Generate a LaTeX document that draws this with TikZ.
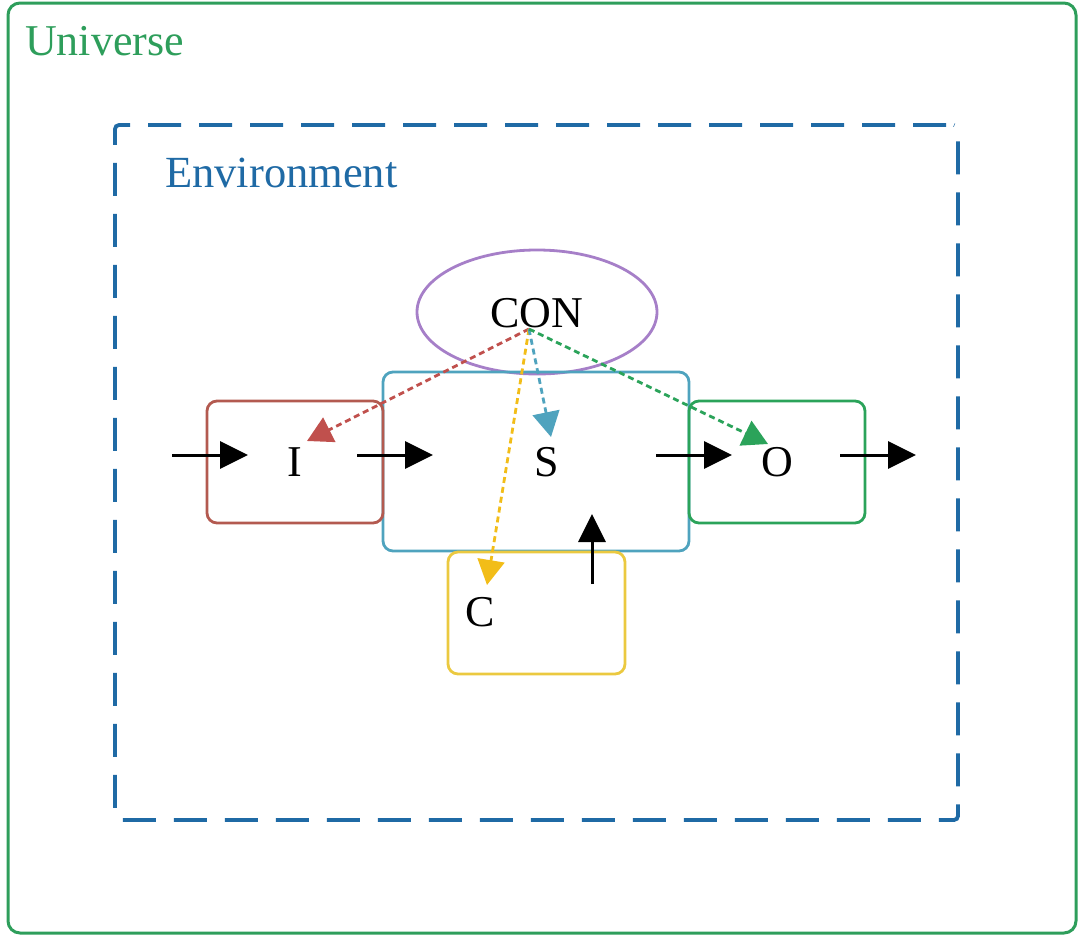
\documentclass[tikz,border=0pt]{standalone}
\usepackage{fontspec}
\setmainfont{Liberation Serif}
\usetikzlibrary{arrows.meta,shapes.geometric}
\definecolor{univgreen}{HTML}{2E9E5B}
\definecolor{envblue}{HTML}{1F6AA5}
\definecolor{conpurple}{HTML}{A67FC8}
\definecolor{systeal}{HTML}{4FA3BE}
\definecolor{inbrown}{HTML}{B35A50}
\definecolor{inred}{HTML}{C0504D}
\definecolor{outgreen}{HTML}{2BA35A}
\definecolor{ctlyellow}{HTML}{EBC940}
\definecolor{ctlgold}{HTML}{F2BD18}

\tikzset{
  box/.style={draw=#1,line width=2.8pt,rounded corners=10pt,
    minimum width=176pt,minimum height=122pt,inner sep=0pt},
  flow/.style={line width=3pt,-{Triangle[length=28pt,width=27pt]}},
  ctl/.style={draw=#1,line width=2.8pt,dash pattern=on 6pt off 4pt,
    -{Triangle[length=25pt,width=27pt,fill=#1]}},
  lbl/.style={font=\fontsize{44}{50}\selectfont,inner sep=0pt}
}

\begin{document}
\begin{tikzpicture}[x=1pt,y=-1pt]
\useasboundingbox (0,0) rectangle (1080,935);
% outer frames
\node[draw=univgreen,line width=3pt,rounded corners=12pt,
  minimum width=1068pt,minimum height=930pt] (univ) at (542,468) {};
\node[lbl,text=univgreen,anchor=base west] (univlab) at (25,55) {Universe};
\node[draw=envblue,line width=3.8pt,rounded corners=4pt,
  dash pattern=on 33pt off 18pt,dash phase=-8pt,
  minimum width=843pt,minimum height=695pt] (env) at (536.5,472.5) {};
\node[lbl,text=envblue,anchor=base west,font=\fontsize{44.5}{50}\selectfont]
  (envlab) at (165,187) {Environment};

% controller
\node[ellipse,draw=conpurple,line width=2.8pt,minimum width=240pt,
  minimum height=124pt,inner sep=0pt] (con) at (537,312) {};
\node[lbl] (conlab) at (537,313) {CON};

% system boxes
\node[box=systeal,minimum width=306pt,minimum height=179pt] (sys) at (536,461.5) {};
\node[box=inbrown,lbl] (inp) at (295,462) {I};
\node[box=outgreen,lbl] (outp) at (777,462) {O};
\node[box=ctlyellow,minimum width=177pt] (cbox) at (536.5,613) {};
\node[lbl] (slab) at (547,462) {S};
\node[lbl] (clab) at (480,612) {C};

% flow ends
\coordinate (a0) at (172,455);  \coordinate (a1) at (248,455);
\coordinate (b0) at (357,455);  \coordinate (b1) at (433,455);
\coordinate (c0) at (656,455);  \coordinate (c1) at (732,455);
\coordinate (d0) at (840,455);  \coordinate (d1) at (916,455);
\coordinate (e0) at (592,584);  \coordinate (e1) at (592,514);
\foreach \s/\t in {a0/a1,b0/b1,c0/c1,d0/d1,e0/e1}
  \draw[flow] (\s) -- (\t);

% control signals
\coordinate (src) at (529,329);
\coordinate (toI) at (307,441);
\coordinate (toC) at (487,585);
\coordinate (toS) at (551,437);
\coordinate (toO) at (768,444);
\draw[ctl=inred] (src) -- (toI);
\draw[ctl=ctlgold] (src) -- (toC);
\draw[ctl=systeal] (src) -- (toS);
\draw[ctl=outgreen] (src) -- (toO);
\end{tikzpicture}
\end{document}
